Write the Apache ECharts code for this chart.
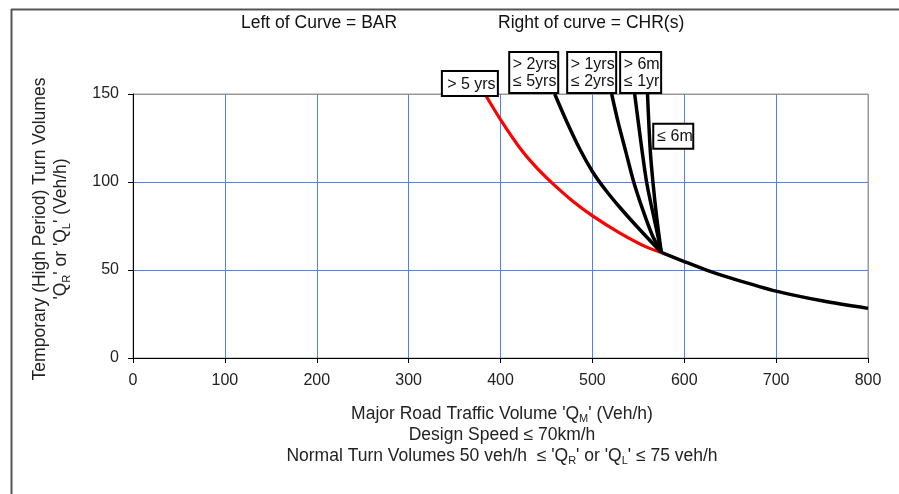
<!DOCTYPE html>
<html>
<head>
<meta charset="utf-8">
<script src="https://cdn.jsdelivr.net/npm/echarts@6/dist/echarts.min.js"></script>
<style>
  html, body { margin: 0; padding: 0; background: #fff; }
  #chart { width: 899px; height: 494px; }
</style>
</head>
<body>
<div id="chart"></div>
<script>
// Warrant curves: BAR (left of curve) vs CHR (right of curve)
const xTicks = [0, 100, 200, 300, 400, 500, 600, 700, 800];
const yTicks = [0, 50, 100, 150];

// > 5 yrs (red)
const over5X = [383, 400, 423, 440, 456, 478, 501, 530, 559, 575];
const over5Y = [150, 135.5, 118, 107.7, 99.5, 89.4, 80.5, 71, 63, 60];
// > 2yrs, <= 5yrs
const y2to5X = [459, 472, 487, 500, 515, 530, 552, 575];
const y2to5Y = [150, 134.4, 118, 106, 95, 85.5, 72.7, 60];
// > 1yrs, <= 2yrs
const y1to2X = [521, 528, 536, 545, 555, 565, 575];
const y1to2Y = [150, 134, 118, 100, 84, 70, 60];
// > 6m, <= 1yr
const m6to1X = [546, 550, 554, 559, 564, 569, 575];
const m6to1Y = [150, 134, 118, 100, 87, 75, 60];
// <= 6m
const under6X = [560, 563, 566, 570, 575];
const under6Y = [150, 118, 99.5, 80, 60];
// shared tail beyond the meeting point
const tailX = [575, 600, 625, 650, 700, 750, 800];
const tailY = [60, 54.8, 49.8, 45.5, 38, 32.5, 28.2];

const FONT = 'Arial, "Liberation Sans", Helvetica, sans-serif';
const BLUE = '#4f7fff';

function pairs(xs, ys) { return xs.map((x, i) => [x, ys[i]]); }

function boxLabel(text, extra) {
  return Object.assign({
    show: true,
    formatter: text,
    fontFamily: FONT,
    fontSize: 16,
    lineHeight: 17,
    color: '#111',
    backgroundColor: '#fff',
    borderColor: '#000',
    borderWidth: 2,
    padding: [3, 1, 2, 3],
    align: 'center'
  }, extra);
}

// attach a boxed label to the item at index idx
function withLabel(xs, ys, idx, label) {
  return pairs(xs, ys).map((p, i) => i === idx ? { value: p, label: label } : p);
}

function curve(name, data, color, width) {
  return {
    name: name,
    type: 'line',
    data: data,
    smooth: 0.3,
    symbol: 'circle',
    symbolSize: 0,
    showSymbol: true,
    lineStyle: { color: color, width: width },
    itemStyle: { color: color },
    label: { show: false },
    emphasis: { disabled: true },
    silent: true
  };
}

const chart = echarts.init(document.getElementById('chart'), null, { renderer: 'canvas' });

chart.setOption({
  animation: false,
  backgroundColor: '#fff',
  textStyle: { fontFamily: FONT },
  grid: { left: 133, right: 31, top: 94, bottom: 136, show: true, borderColor: '#999', borderWidth: 1 },
  xAxis: {
    type: 'value', min: 0, max: 800, interval: 100,
    axisLine: { show: true, lineStyle: { color: '#000', width: 1 } },
    axisTick: { show: true, length: 5, lineStyle: { color: '#000' } },
    axisLabel: { fontSize: 16, color: '#222', margin: 15, fontFamily: FONT,
      formatter: v => xTicks.includes(v) ? String(v) : '' },
    splitLine: { show: true, lineStyle: { width: 1,
      color: [BLUE, BLUE, BLUE, BLUE, BLUE, BLUE, BLUE, BLUE, '#999'] } }
  },
  yAxis: {
    type: 'value', min: 0, max: 150, interval: 50,
    axisLine: { show: true, lineStyle: { color: '#000', width: 1 } },
    axisTick: { show: true, length: 5, lineStyle: { color: '#000' } },
    axisLabel: { fontSize: 16, color: '#222', margin: 14, fontFamily: FONT,
      formatter: v => yTicks.includes(v) ? String(v) : '' },
    splitLine: { show: true, lineStyle: { width: 1, color: [BLUE, BLUE, BLUE, '#999'] } }
  },
  series: [
    curve('> 5 yrs', withLabel(over5X, over5Y, 0,
      boxLabel('> 5 yrs', { position: 'top', distance: 0, offset: [-15, 1], width: 49, padding: [4, 1, 2, 4] })), '#ff0000', 3.2),
    curve('> 2yrs ≤ 5yrs', withLabel(y2to5X, y2to5Y, 0,
      boxLabel('> 2yrs\n≤ 5yrs', { position: 'top', distance: 2, offset: [-21, 0], width: 43 })), '#000', 3.5),
    curve('> 1yrs ≤ 2yrs', withLabel(y1to2X, y1to2Y, 0,
      boxLabel('> 1yrs\n≤ 2yrs', { position: 'top', distance: 2, offset: [-20, 0], width: 43 })), '#000', 3.5),
    curve('> 6m ≤ 1yr', withLabel(m6to1X, m6to1Y, 0,
      boxLabel('> 6m\n≤ 1yr', { position: 'top', distance: 2, offset: [6, 0], width: 35 })), '#000', 3.5),
    curve('≤ 6m', withLabel(under6X, under6Y, 1,
      boxLabel('≤ 6m', { position: 'right', distance: 4, offset: [0, -14], width: 34, align: 'left', padding: [4, 1, 2, 3] })), '#000', 3.5),
    curve('tail', pairs(tailX, tailY), '#000', 3.5)
  ],
  graphic: [
    // outer frame
    { type: 'line', shape: { x1: 11, y1: 9.5, x2: 899, y2: 9.5 }, style: { stroke: '#555', lineWidth: 2 }, silent: true },
    { type: 'line', shape: { x1: 11.5, y1: 9, x2: 11.5, y2: 494 }, style: { stroke: '#555', lineWidth: 2 }, silent: true },
    // header notes
    { type: 'text', x: 241, y: 23, style: { text: 'Left of Curve = BAR', font: '17.5px ' + FONT, fill: '#111', verticalAlign: 'middle' }, silent: true },
    { type: 'text', x: 498, y: 23, style: { text: 'Right of curve = CHR(s)', font: '17.5px ' + FONT, fill: '#111', verticalAlign: 'middle' }, silent: true },
    // y axis title
    { type: 'text', x: 51, y: 229, rotation: Math.PI / 2,
      style: {
        text: 'Temporary (High Period) Turn Volumes\n\'Q{s|R}\' or \'Q{s|L}\' (Veh/h)',
        font: '17.5px ' + FONT, fill: '#222', align: 'center', verticalAlign: 'middle', lineHeight: 21,
        rich: { s: { fontSize: 11, fontFamily: FONT, lineHeight: 11, verticalAlign: 'bottom', fill: '#222' } }
      }, silent: true },
    // x axis title and notes
    { type: 'text', x: 502, y: 435,
      style: {
        text: 'Major Road Traffic Volume \'Q{s|M}\' (Veh/h)\nDesign Speed ≤ 70km/h\nNormal Turn Volumes 50 veh/h  ≤ \'Q{s|R}\' or \'Q{s|L}\' ≤ 75 veh/h',
        font: '17.5px ' + FONT, fill: '#222', align: 'center', verticalAlign: 'middle', lineHeight: 21,
        rich: { s: { fontSize: 11, fontFamily: FONT, lineHeight: 11, verticalAlign: 'bottom', fill: '#222' } }
      }, silent: true }
  ]
});
</script>
</body>
</html>
